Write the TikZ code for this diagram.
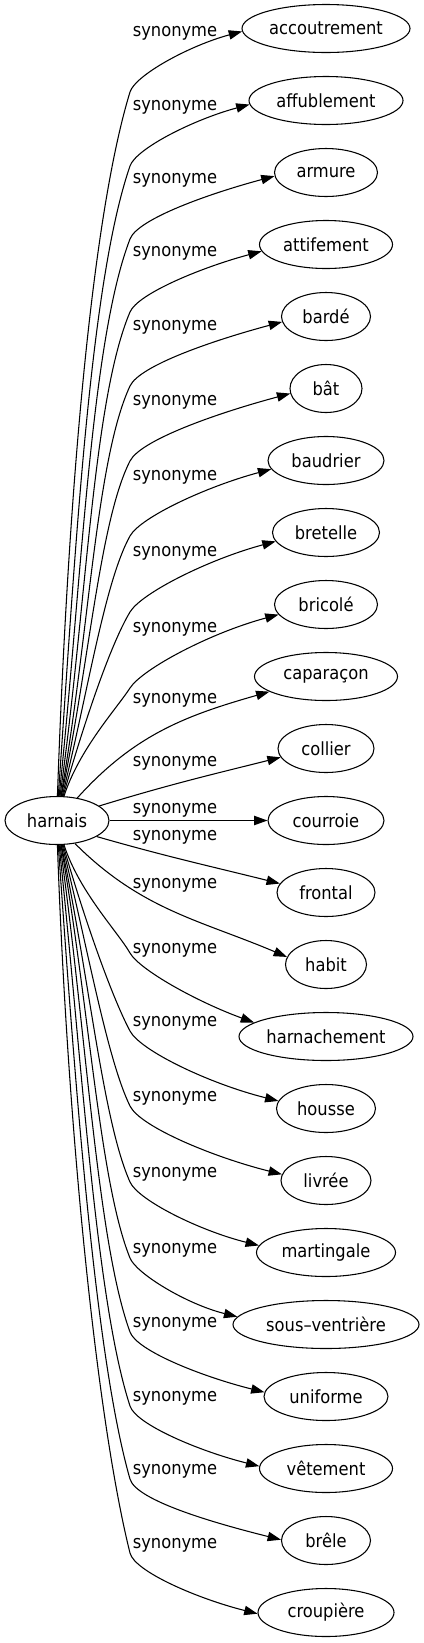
\documentclass[tikz,border=0pt]{standalone}
\usepackage{fontspec}
\setmainfont{DejaVu Sans Condensed}
\usetikzlibrary{arrows.meta,shapes.geometric}
\newcommand\myfs{\fontsize{13.6pt}{16pt}\selectfont}
\tikzset{
  ell/.style={draw, line width=0.8pt, ellipse, minimum height=36pt, inner sep=0pt, font=\myfs},
  lbl/.style={inner sep=0pt, font=\myfs},
  edge/.style={draw, line width=0.8pt, -{Triangle[length=10pt,width=7pt]}},
}
\begin{document}
\begin{tikzpicture}[x=0.75pt,y=0.75pt]
\useasboundingbox (0,0) rectangle (424,-1643);
\node[ell, minimum width=78pt] (h) at (57,-820.5) {harnais};
\foreach \txt/\w [count=\i from 0] in {accoutrement/168, affublement/154, armure/103, attifement/133, bardé/89, bât/72, baudrier/116, bretelle/107, bricolé/103, caparaçon/143, collier/96, courroie/116, frontal/98, habit/81, harnachement/174, housse/99, livrée/90, martingale/139, sous–ventrière/186, uniforme/124, vêtement/133, brêle/89, croupière/136}
  { \node[ell, minimum width=\w*0.75pt] (t\i) at (326,{-(28.5+72*\i)}) {\txt}; }
\foreach \y [count=\i from 0] in {33,107,180,253,327,402,477,553,629,700,763,810,837,885,950,1023,1098,1174,1250,1324,1398,1471,1545}
  { \node[lbl] (l\i) at (175,-\y) {synonyme}; }
% upper edges
\foreach \i in {0,...,8} {
  \pgfmathtruncatemacro\sa{round(89-1.9*\i)}
  \pgfmathsetmacro\so{88-2*\i}
  \pgfmathsetmacro\wa{73-2*\i}
  \pgfmathsetmacro\wi{\wa+180}
  \pgfmathtruncatemacro\ea{round(182+1.2*\i)}
  \pgfmathsetmacro\ly{{33,107,180,253,327,402,477,553,629}[\i]}
  \coordinate (w\i) at (130,{-(\ly+59)});
  \draw[edge] (h.\sa) to[out=\so, in=\wi, in looseness=0.5] (w\i)
     to[out=\wa, in=195, out looseness=0.35, in looseness=1.1] (t\i.\ea);
}
% lower edges
\foreach \i in {14,...,22} {
  \pgfmathsetmacro\j{22-\i}
  \pgfmathtruncatemacro\sa{round(-(89-1.9*\j))}
  \pgfmathsetmacro\so{-(88-2*\j)}
  \pgfmathsetmacro\wa{-(76-2*\j)}
  \pgfmathsetmacro\wi{\wa+180}
  \pgfmathtruncatemacro\ea{round(180.5-1.4*\j)}
  \pgfmathsetmacro\ly{{0,0,0,0,0,0,0,0,0,0,0,0,0,0,953,1031,1106,1182,1258,1332,1406,1479,1553}[\i]}
  \pgfmathsetmacro\ti{\i==14 ? 160 : 166}
  \coordinate (w\i) at (130,-\ly);
  \draw[edge] (h.\sa) to[out=\so, in=\wi, in looseness=0.5] (w\i)
     to[out=\wa, in=\ti, out looseness=0.35, in looseness=1.1] (t\i.\ea);
}
% middle edges
\draw[edge] (h.48) to[out=48, in=196] (t9.195);
\draw[edge] (h.19) to[out=17, in=194] (t10.191);
\draw[edge] (h.east) -- (t11.west);
\draw[edge] (h.-22) to[out=-16, in=166] (t12.169);
\draw[edge] (h.-52) to[out=-45, in=157] (t13.169);
\end{tikzpicture}
\end{document}
